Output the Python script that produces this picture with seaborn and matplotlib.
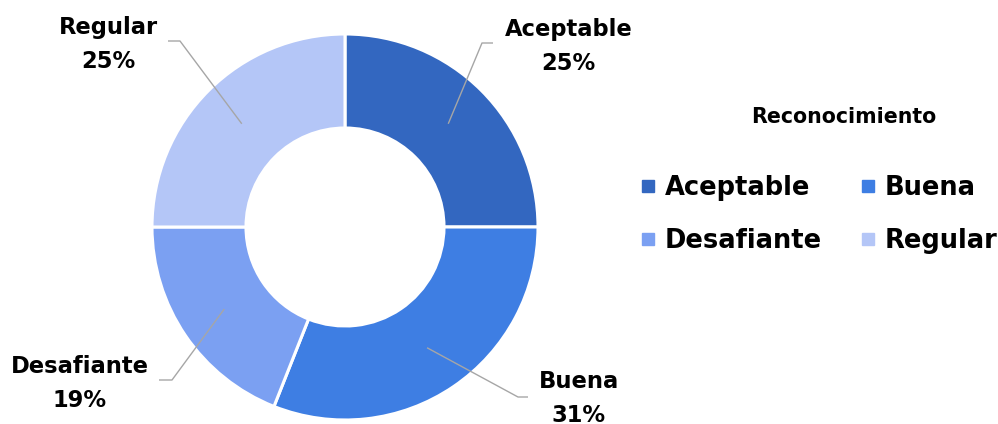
import numpy as np
import matplotlib
matplotlib.use("Agg")
import matplotlib.pyplot as plt
from matplotlib.lines import Line2D
import seaborn as sns

# ---- data ----
categories = ["Aceptable", "Buena", "Desafiante", "Regular"]
percentages = [25, 31, 19, 25]
legend_title = "Reconocimiento"
colors = ["#3367C0", "#3E7EE3", "#7BA0F2", "#B4C6F7"]

sns.set_theme(style="white")
plt.rcParams["font.family"] = ["DejaVu Sans"]
plt.rcParams["font.weight"] = "bold"
plt.rcParams["text.color"] = "black"

W, H = 998, 424
fig = plt.figure(figsize=(W / 100, H / 100), dpi=100)
ax = fig.add_axes([0, 0, 1, 1])

cx, cy = 345, H - 227
R_out, ring = 193, 94
wedges, _ = ax.pie(percentages, colors=colors, startangle=90, counterclock=False,
                   radius=R_out, center=(cx, cy),
                   wedgeprops=dict(width=ring, edgecolor="white", linewidth=2.2))
ax.set_xlim(0, W)
ax.set_ylim(0, H)
ax.set_aspect("equal")
ax.axis("off")

# layout for callouts (pixel coords from top): knee, end, label x, label baseline
layout = {
    "Aceptable": dict(knee=(482, 43), end=(493, 43), lx=568.5, ly=36),
    "Buena": dict(knee=(518, 397), end=(528, 397), lx=579, ly=388),
    "Desafiante": dict(knee=(172, 380), end=(159, 380), lx=80, ly=373),
    "Regular": dict(knee=(180, 41), end=(168, 41), lx=108.5, ly=34),
}
r_mid = R_out - ring / 2
for w, cat, pct in zip(wedges, categories, percentages):
    ang = np.deg2rad((w.theta1 + w.theta2) / 2)
    sx, sy = cx + r_mid * np.cos(ang), cy + r_mid * np.sin(ang)
    L = layout[cat]
    ax.plot([sx, L["knee"][0], L["end"][0]], [sy, H - L["knee"][1], H - L["end"][1]],
            color="#A6A6A6", lw=1.0, solid_capstyle="butt")
    ax.text(L["lx"], H - L["ly"], cat, ha="center", va="baseline",
            fontsize=16.3, fontweight="bold", color="black")
    ax.text(L["lx"], H - L["ly"] - 34, f"{pct}%", ha="center", va="baseline",
            fontsize=16.3, fontweight="bold", color="black")

# legend (row-wise order: matplotlib fills column by column)
handles = [Line2D([], [], marker="s", linestyle="none", markersize=8.6,
                  markerfacecolor=c, markeredgecolor=c) for c in colors]
order = [0, 2, 1, 3]
leg = fig.legend([handles[i] for i in order], [categories[i] for i in order],
                 loc="upper left",
                 bbox_to_anchor=(641.5 / W, 1 - 175 / H), bbox_transform=fig.transFigure,
                 ncol=2, frameon=False, fontsize=18.5, handlelength=0.5,
                 handletextpad=0.41, columnspacing=1.53, labelspacing=1.05,
                 borderpad=0, borderaxespad=0)
for t in leg.get_texts():
    t.set_fontweight("bold")
    t.set_color("black")
fig.text(844 / W, 1 - 123 / H, legend_title, ha="center", va="baseline",
         fontsize=14.8, fontweight="bold", color="black")

fig.savefig("out.png", dpi=100, facecolor="white")
